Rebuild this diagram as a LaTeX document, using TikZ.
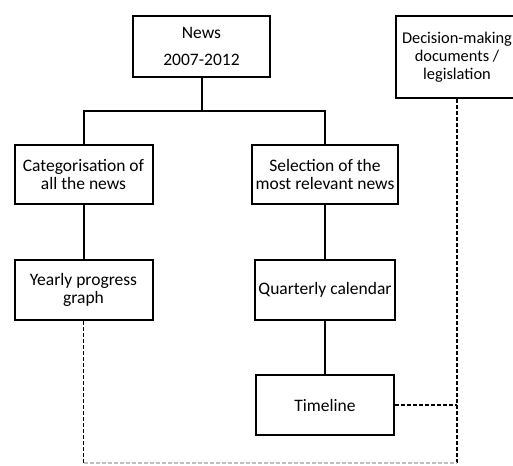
\documentclass[tikz,border=0pt]{standalone}
\usepackage{fontspec}
\setmainfont{Carlito}
\usepackage{tikz}
\usetikzlibrary{positioning}
\tikzstyle{stage} = [rectangle, minimum width=138pt, minimum height=60pt, text centered, draw=black, line width=2pt, align=center, font=\fontsize{17.5}{18}\selectfont]
\tikzstyle{link} = [line width=2pt]
\tikzstyle{ref} = [line width=1.5pt, dash pattern=on 4pt off 2pt]

\begin{document}
\begin{tikzpicture}[x=1pt, y=-1pt, node distance=54pt]
            \useasboundingbox (0,0) rectangle (513,465);
            \node[stage, minimum width=137pt, minimum height=61pt] (news) at (201.5,46.5) {News\\[9pt]2007-2012};
            \node[stage, minimum width=122pt, minimum height=82pt, font=\fontsize{16.4}{18}\selectfont] (decision) at (457,57) {Decision-making\\documents /\\legislation};
            \node[stage, minimum height=59pt] (cat) at (83.5,174.5) {Categorisation of\\all the news};
            \node[stage, minimum height=59pt] (sel) at (325,174.5) {Selection of the\\most relevant news};
            \node[stage, below=54pt of cat] (yearly) {Yearly progress\\graph};
            \node[stage, below=54pt of sel] (quarterly) {Quarterly calendar};
            \node[stage, below=53pt of quarterly] (timeline) {Timeline};
            
            \coordinate (fork) at (201.5,111);
            \coordinate (lcorner) at (83.5,463);
            \coordinate (rcorner) at (457,463);
            
            \draw[link] (news.south) -- (fork);
            \draw[link] (cat.north) |- (fork) -| (sel.north);
            \draw[link] (cat) -- (yearly);
            \draw[link] (sel) -- (quarterly);
            \draw[link] (quarterly) -- (timeline);
            \draw[ref] (decision.south) -- (rcorner);
            \draw[ref] (yearly.south) -- (lcorner);
            \draw[ref] (timeline.east) -- (timeline.east -| decision.south);
            \draw[ref, gray!50] (lcorner) -- (rcorner);
        \end{tikzpicture}
\end{document}
